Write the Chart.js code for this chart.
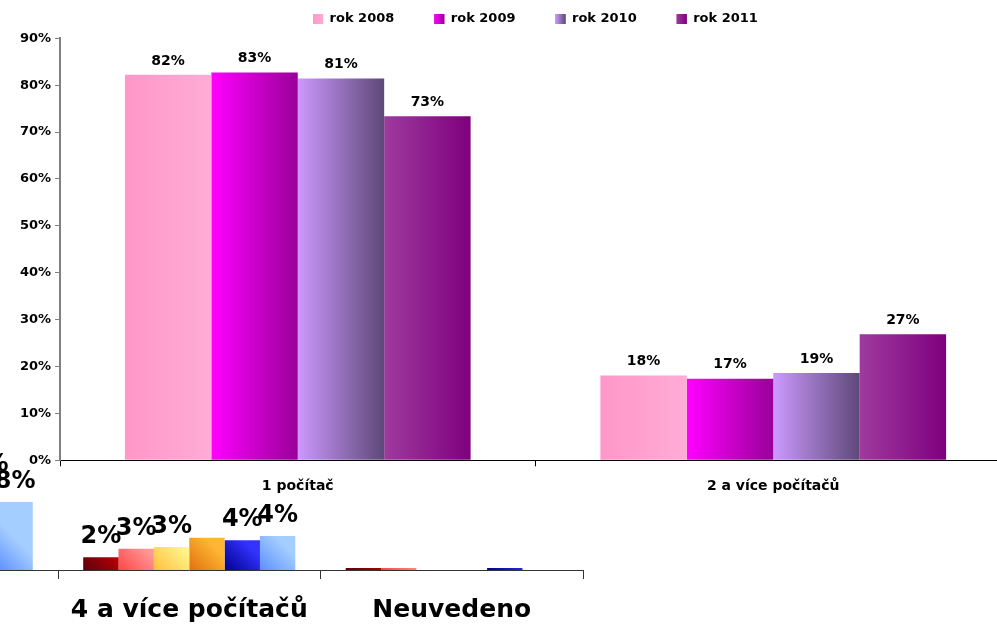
<!DOCTYPE html>
<html><head><meta charset="utf-8">
<script src="https://cdn.jsdelivr.net/npm/chart.js@4.4.1/dist/chart.umd.min.js"></script>
<style>
html,body{margin:0;padding:0;width:997px;height:627px;overflow:hidden;background:#fff;}
#c2{position:absolute;left:-300px;top:0;}
#c1{position:absolute;left:0;top:0;}
</style></head><body>
<canvas id="c2" width="900" height="627"></canvas>
<canvas id="c1" width="1068" height="627"></canvas>
<script>
// ---- main chart data ----
const categories = ['1 počítač', '2 a více počítačů'];
const seriesNames = ['rok 2008', 'rok 2009', 'rok 2010', 'rok 2011'];
const rok2008 = [82.2, 18.1];
const rok2009 = [82.7, 17.4];
const rok2010 = [81.4, 18.6];
const rok2011 = [73.4, 26.9];
const yTickValues = [0, 10, 20, 30, 40, 50, 60, 70, 80, 90];

// ---- partially visible background chart data ----
const categories2 = ['3 počítače', '4 a více počítačů', 'Neuvedeno'];
const series2Names = ['Řada 1', 'Řada 2', 'Řada 3', 'Řada 4', 'Řada 5', 'Řada 6'];
const rada1 = [null, 1.5, 0.25];
const rada2 = [null, 2.5, 0.25];
const rada3 = [null, 2.7, 0];
const rada4 = [null, 3.8, 0];
const rada5 = [10.0, 3.5, 0.25];
const rada6 = [8.0, 4.0, 0];

const FONT = '"DejaVu Sans", Verdana, sans-serif';

const mainColors = [
  ['#FF97C9', '#FFACD6'],
  ['#FF00FF', '#990099'],
  ['#CC99FF', '#5E4878'],
  ['#9E3A9E', '#7E007E']
];
const bgColors = [
  ['#5A0010', '#C00000'],
  ['#FF4545', '#FF9999'],
  ['#FFBF3F', '#FFF38A'],
  ['#E0700F', '#FFB733'],
  ['#000090', '#3333FF'],
  ['#5C8FFF', '#A4CEFF']
];

const MAIN_CAT = 0.727;
const BG_CAT = 0.808;

function barBox(ctx, catPct) {
  const chart = ctx.chart, xs = chart.scales.x;
  if (!xs) return null;
  const n = chart.data.datasets.length;
  const catW = (xs.right - xs.left) / chart.data.labels.length;
  const groupW = catW * catPct;
  const barW = groupW / n;
  const cx = xs.getPixelForValue(ctx.dataIndex);
  const left = cx - groupW / 2 + ctx.datasetIndex * barW;
  if (!isFinite(left) || !isFinite(barW) || barW <= 0) return null;
  return { left: left, w: barW };
}

function mainFill(di) {
  return function (ctx) {
    const [a, b] = mainColors[di];
    if (ctx.type !== 'data') return a;
    const r = barBox(ctx, MAIN_CAT);
    if (!r) return a;
    const g = ctx.chart.ctx.createLinearGradient(r.left, 0, r.left + r.w, 0);
    g.addColorStop(0, a); g.addColorStop(1, b);
    return g;
  };
}
function bgFill(di) {
  return function (ctx) {
    const [a, b] = bgColors[di];
    if (ctx.type !== 'data') return b;
    const r = barBox(ctx, BG_CAT);
    if (!r) return b;
    const bottom = ctx.chart.scales.y.getPixelForValue(0);
    if (!isFinite(bottom)) return b;
    const g = ctx.chart.ctx.createLinearGradient(r.left, bottom, r.left + r.w, bottom - r.w);
    g.addColorStop(0, a); g.addColorStop(0.7, b); g.addColorStop(1, b);
    return g;
  };
}

const valueLabels = {
  id: 'valueLabels',
  afterDatasetsDraw(chart, args, opts) {
    const c = chart.ctx;
    const skip = opts.skip || [];
    c.save();
    c.font = opts.font;
    c.fillStyle = '#000';
    c.textAlign = 'center';
    c.textBaseline = 'middle';
    chart.data.datasets.forEach((ds, di) => {
      const meta = chart.getDatasetMeta(di);
      meta.data.forEach((bar, i) => {
        const v = ds.data[i];
        if (v == null || v < 0.5) return;
        if (skip.some(s => s[0] === di && s[1] === i)) return;
        c.fillText(Math.round(v) + '%', bar.x, bar.y - opts.offset);
      });
    });
    c.restore();
  }
};

const legendTweak = {
  id: 'legendTweak',
  beforeLayout(chart) {
    const lg = chart.legend;
    if (lg && !lg._tweaked) {
      const orig = lg.fit;
      lg.fit = function () { orig.call(this); this.height = 65.8; };
      lg._tweaked = true;
    }
  },
  afterDraw(chart) {
    const lg = chart.legend;
    if (!lg || !lg.legendHitBoxes) return;
    const c = chart.ctx;
    lg.legendHitBoxes.forEach((hb, i) => {
      if (!isFinite(hb.left) || !isFinite(hb.top)) return;
      const [a, b] = mainColors[i];
      const y = hb.top + 1.5;
      const g = c.createLinearGradient(hb.left, 0, hb.left + 10, 0);
      g.addColorStop(0, a); g.addColorStop(1, b);
      c.fillStyle = g;
      c.fillRect(hb.left, y, 10, 10);
    });
  }
};

// ---- background chart ----
const bgSeries = [rada1, rada2, rada3, rada4, rada5, rada6];
new Chart(document.getElementById('c2'), {
  type: 'bar',
  data: {
    labels: categories2,
    datasets: bgSeries.map((d, i) => ({
      label: series2Names[i], data: d,
      backgroundColor: bgFill(i), borderWidth: 0,
      barPercentage: 1, categoryPercentage: BG_CAT
    }))
  },
  options: {
    responsive: false, animation: false,
    layout: { padding: { left: 95.5, right: 17, top: 230, bottom: 2 } },
    plugins: {
      legend: { display: false }, tooltip: { enabled: false },
      valueLabels: { font: 'bold 24px ' + FONT, offset: 20, skip: [[3, 1]] }
    },
    scales: {
      x: {
        grid: { offset: true, drawOnChartArea: false, tickLength: 9, color: '#333' },
        border: { color: '#333', width: 1 },
        ticks: { color: '#000', font: { family: FONT, size: 25, weight: 'bold' }, padding: 16, maxRotation: 0, autoSkip: false },
        afterFit(s) { s.height = 55; }
      },
      y: { display: false, min: 0, max: 40 }
    }
  },
  plugins: [valueLabels]
});

// ---- main chart ----
const mainSeries = [rok2008, rok2009, rok2010, rok2011];
new Chart(document.getElementById('c1'), {
  type: 'bar',
  data: {
    labels: categories,
    datasets: mainSeries.map((d, i) => ({
      label: seriesNames[i], data: d,
      backgroundColor: mainFill(i), borderWidth: 0,
      barPercentage: 1, categoryPercentage: MAIN_CAT
    }))
  },
  options: {
    responsive: false, animation: false,
    layout: { padding: { left: 20, right: 57, top: -27.5, bottom: 126.7 } },
    plugins: {
      legend: {
        position: 'top', fullSize: false,
        labels: { boxWidth: 10, boxHeight: 10, padding: 40, color: '#000', font: { family: FONT, size: 13, weight: 'bold' } }
      },
      tooltip: { enabled: false },
      valueLabels: { font: 'bold 14px ' + FONT, offset: 14 }
    },
    scales: {
      x: {
        grid: { offset: true, drawOnChartArea: false, tickLength: 6, color: '#000' },
        border: { color: '#000', width: 1 },
        ticks: { color: '#000', font: { family: FONT, size: 14, weight: 'bold' }, padding: 12, maxRotation: 0, autoSkip: false },
        afterFit(s) { s.height = 40; }
      },
      y: {
        min: yTickValues[0], max: yTickValues[yTickValues.length - 1],
        afterBuildTicks(s) { s.ticks = yTickValues.map(v => ({ value: v })); },
        grid: { drawOnChartArea: false, tickLength: 5, color: '#808080' },
        border: { color: '#808080', width: 2 },
        ticks: { color: '#000', font: { family: FONT, size: 13, weight: 'bold' }, padding: 4, callback: v => v + '%' },
        afterFit(s) { s.width = 40; }
      }
    }
  },
  plugins: [valueLabels, legendTweak]
});
</script>
</body></html>
